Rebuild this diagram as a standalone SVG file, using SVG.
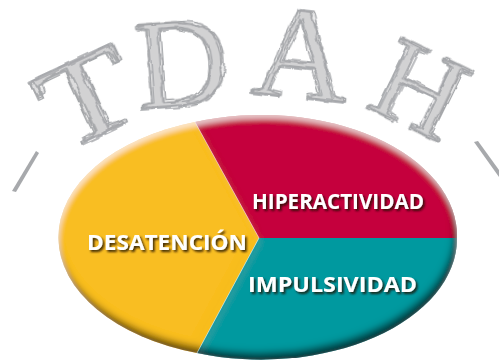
<svg xmlns="http://www.w3.org/2000/svg" width="499" height="361" viewBox="0 0 499 361">
<defs>
<style>
.sk{font-family:"Liberation Serif","DejaVu Serif",serif;fill:#A7A9AC;fill-opacity:0.22;stroke:#A5A7AA;stroke-width:1.3;stroke-linejoin:round;text-anchor:middle;filter:url(#sketch)}
.lbl{font-family:"Open Sans","Liberation Sans",sans-serif;font-weight:700;font-size:22px;fill:#FFFFFF;filter:url(#tshadow)}
.stroke{fill:#A7A9AC}
</style>
<filter id="sketch" x="-30%" y="-30%" width="160%" height="160%">
<feTurbulence type="fractalNoise" baseFrequency="0.06" numOctaves="2" seed="2" result="n1"/>
<feDisplacementMap in="SourceGraphic" in2="n1" scale="7" xChannelSelector="R" yChannelSelector="G" result="d1"/>
<feTurbulence type="fractalNoise" baseFrequency="0.04" numOctaves="2" seed="9" result="n2"/>
<feDisplacementMap in="SourceGraphic" in2="n2" scale="8" xChannelSelector="G" yChannelSelector="B" result="d2"/>
<feTurbulence type="fractalNoise" baseFrequency="0.08" numOctaves="1" seed="17" result="n3"/>
<feDisplacementMap in="SourceGraphic" in2="n3" scale="6" xChannelSelector="B" yChannelSelector="R" result="d3a"/>
<feOffset in="d3a" dx="2" dy="-1.5" result="d3"/>
<feMerge><feMergeNode in="d1"/><feMergeNode in="d2"/><feMergeNode in="d3"/></feMerge>
</filter>
<filter id="tshadow" x="-10%" y="-30%" width="120%" height="160%">
<feDropShadow dx="1.8" dy="2" stdDeviation="1.3" flood-color="#1a0a05" flood-opacity="0.85"/>
</filter>
<filter id="bevel" x="-10%" y="-15%" width="120%" height="130%">
<feComponentTransfer in="SourceAlpha" result="inv"><feFuncA type="table" tableValues="1 0"/></feComponentTransfer>
<feOffset in="inv" dx="-3" dy="-7" result="invUp"/>
<feGaussianBlur in="invUp" stdDeviation="3.5" result="b1"/>
<feFlood flood-color="#000000" flood-opacity="0.85"/>
<feComposite in2="b1" operator="in" result="dark"/>
<feComposite in="dark" in2="SourceAlpha" operator="in" result="darkIn"/>
<feOffset in="inv" dx="1" dy="4" result="invDn"/>
<feGaussianBlur in="invDn" stdDeviation="2.5" result="b2"/>
<feFlood flood-color="#FFFFFF" flood-opacity="0.55"/>
<feComposite in2="b2" operator="in" result="light"/>
<feComposite in="light" in2="SourceAlpha" operator="in" result="lightIn"/>
<feMerge><feMergeNode in="SourceGraphic"/><feMergeNode in="darkIn"/><feMergeNode in="lightIn"/></feMerge>
</filter>
</defs>
<rect width="499" height="361" fill="#FFFFFF"/>

<g id="title">
<polygon class="stroke" points="36,151 39,153 16,192 12,191"/>
<polygon class="stroke" points="474,142 478,141 499,170 499,177"/>
<text class="sk" transform="translate(103,134) rotate(-25) scale(1.3,1)" font-size="118">T</text>
<text class="sk" transform="translate(184,106) rotate(-4)" font-size="128">D</text>
<text class="sk" transform="translate(297,98) rotate(6)" font-size="132">A</text>
<text class="sk" transform="translate(402,124) rotate(26)" font-size="118">H</text>
</g>

<g id="pie" filter="url(#bevel)">
<g id="desatencion-sector"><path d="M259,238 L195,122 A196,121 0 0 0 197,353 Z" fill="#F9BE22"/></g>
<g id="hiperactividad-sector"><path d="M259,238 L457,238 A196,121 0 0 0 195,122 Z" fill="#C5003E"/></g>
<g id="impulsividad-sector"><path d="M259,238 L197,353 A196,121 0 0 0 457,238 Z" fill="#00999F"/></g>
</g>
<g id="dividers" stroke="#FFFFFF" stroke-opacity="0.6" stroke-width="0.8" fill="none">
<path d="M195,122 L259,238 L197,353"/>
</g>

<g id="desatencion"><text class="lbl" x="87" y="250" textLength="160" lengthAdjust="spacingAndGlyphs">DESATENCIÓN</text></g>
<g id="hiperactividad"><text class="lbl" x="252" y="209" textLength="172" lengthAdjust="spacingAndGlyphs">HIPERACTIVIDAD</text></g>
<g id="impulsividad"><text class="lbl" x="248" y="292" textLength="169" lengthAdjust="spacingAndGlyphs">IMPULSIVIDAD</text></g>
</svg>
